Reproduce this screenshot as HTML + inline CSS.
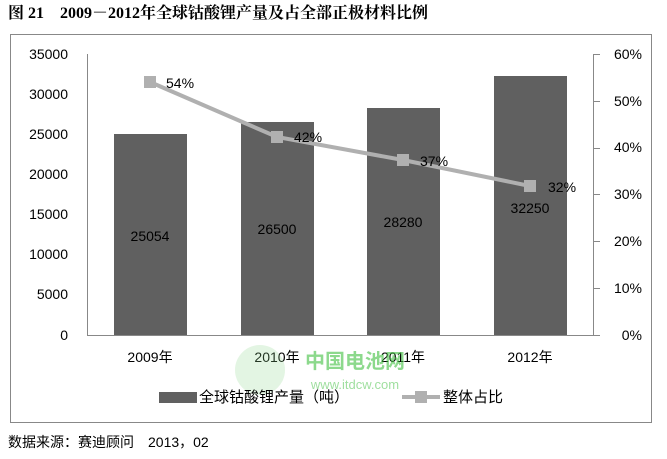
<!DOCTYPE html>
<html><head><meta charset="utf-8"><style>
body{margin:0;width:667px;height:454px;background:#fff;overflow:hidden}
</style></head><body>
<svg width="667" height="454" xmlns="http://www.w3.org/2000/svg" font-family="Liberation Sans, Noto Sans CJK SC, sans-serif">
<text x="8" y="18" font-size="16" font-weight="bold" font-family="Liberation Serif, Noto Serif CJK SC, serif">图 21　2009－2012年全球钴酸锂产量及占全部正极材料比例</text>
<rect x="10.5" y="34.5" width="641" height="388" fill="none" stroke="#888" stroke-width="1"/>
<g font-size="14" fill="#000" text-anchor="end">
<text x="68" y="59">35000</text><text x="68" y="99">30000</text><text x="68" y="139">25000</text><text x="68" y="179">20000</text><text x="68" y="219">15000</text><text x="68" y="259">10000</text><text x="68" y="299">5000</text><text x="68" y="340">0</text>
</g>
<g font-size="14" text-anchor="end">
<text x="642" y="59">60%</text><text x="642" y="106">50%</text><text x="642" y="152">40%</text><text x="642" y="199">30%</text><text x="642" y="246">20%</text><text x="642" y="293">10%</text><text x="642" y="340">0%</text>
</g>
<g fill="#606060">
<rect x="114" y="134" width="73" height="201"/>
<rect x="241" y="122" width="73" height="213"/>
<rect x="367" y="108" width="73" height="227"/>
<rect x="494" y="76" width="73" height="259"/>
</g>
<line x1="87.5" y1="54" x2="87.5" y2="335" stroke="#888"/>
<line x1="87" y1="335.5" x2="600" y2="335.5" stroke="#888"/>
<line x1="593.5" y1="54" x2="593.5" y2="335" stroke="#888"/>
<g stroke="#888"><line x1="593" y1="54.5" x2="600" y2="54.5"/><line x1="593" y1="101.5" x2="600" y2="101.5"/><line x1="593" y1="148.5" x2="600" y2="148.5"/><line x1="593" y1="194.5" x2="600" y2="194.5"/><line x1="593" y1="241.5" x2="600" y2="241.5"/><line x1="593" y1="288.5" x2="600" y2="288.5"/></g>
<g font-size="14" text-anchor="middle" fill="#000">
<text x="150" y="241">25054</text><text x="277" y="234">26500</text><text x="403" y="227">28280</text><text x="530" y="213">32250</text>
</g>
<polyline points="150,82 277,137 403,160 530,186" fill="none" stroke="#b0b0b0" stroke-width="4"/>
<g fill="#b0b0b0"><rect x="144" y="76" width="12" height="12"/><rect x="271" y="131" width="12" height="12"/><rect x="397" y="154" width="12" height="12"/><rect x="524" y="180" width="12" height="12"/></g>
<g font-size="14"><text x="166" y="88">54%</text><text x="294" y="142">42%</text><text x="420" y="166">37%</text><text x="548" y="192">32%</text></g>
<g font-size="14" text-anchor="middle"><text x="150" y="362">2009年</text><text x="277" y="362">2010年</text><text x="403" y="362">2011年</text><text x="530" y="362">2012年</text></g>
<circle cx="260" cy="370" r="25" fill="#8fd88f" fill-opacity="0.25"/>
<text x="355" y="368" font-size="20" font-weight="bold" fill="#3fbf3f" fill-opacity="0.6" text-anchor="middle">中国电池网</text>
<text x="355" y="389" font-size="13" fill="#3fbf3f" fill-opacity="0.5" text-anchor="middle">www.itdcw.com</text>
<rect x="159" y="392" width="38" height="11" fill="#606060"/>
<text x="199" y="402" font-size="15">全球钴酸锂产量（吨）</text>
<line x1="402" y1="397" x2="440" y2="397" stroke="#b0b0b0" stroke-width="4"/>
<rect x="415" y="391" width="12" height="12" fill="#b0b0b0"/>
<text x="443" y="402" font-size="15">整体占比</text>
<text x="8" y="447" font-size="14">数据来源：赛迪顾问　2013，02</text>
</svg>
</body></html>
